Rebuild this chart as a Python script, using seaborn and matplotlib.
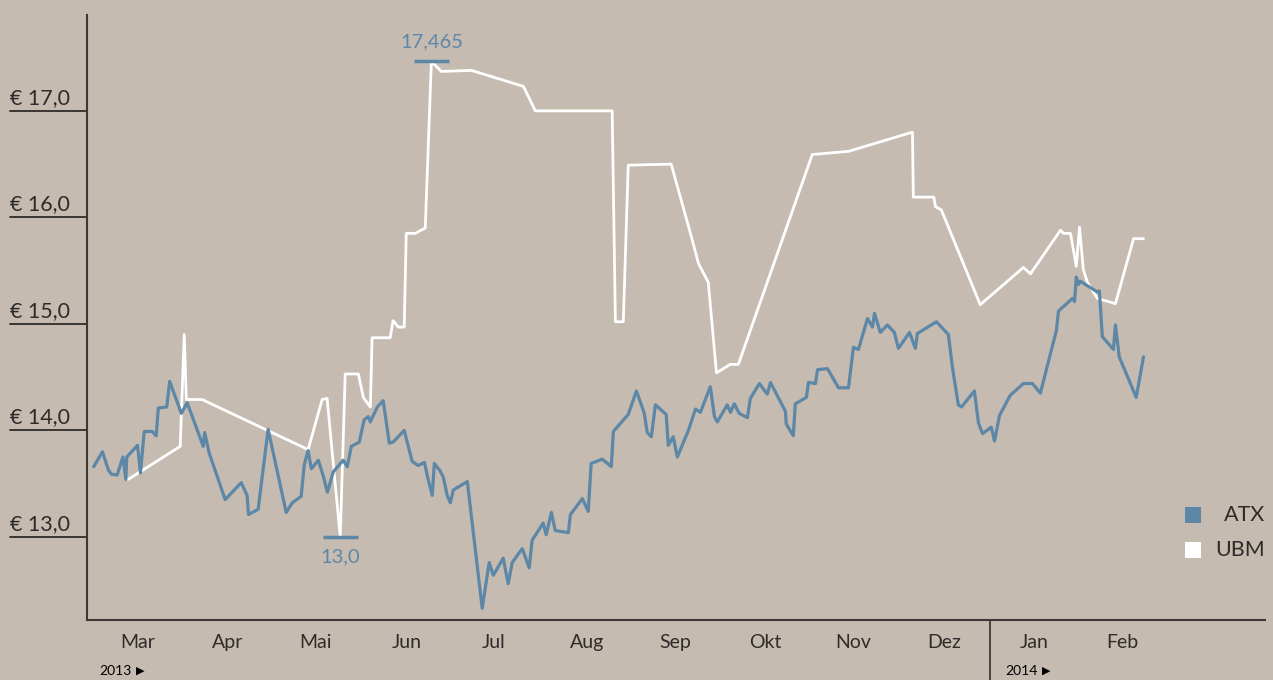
import pandas as pd
import numpy as np
import matplotlib
matplotlib.use('agg')
import matplotlib.pyplot as plt
import matplotlib.transforms as mtransforms
from matplotlib.patches import Rectangle
import seaborn as sns

BG = "#c5bbb1"
BLUE = "#5d87a7"
DARK = "#2f2b28"
AXIS = "#3d3835"

START = pd.Timestamp("2013-03-01")

# ATX, days since 1 Mar 2013 and value
atx_days = [-1, 2, 4, 5, 7, 9, 10, 10.3, 14, 15, 16.3, 19, 20.4, 21.1, 24, 25, 29, 31, 36.5, 37, 38.5,
            44, 49.5, 51.5, 52, 55.3, 58.7, 64.9, 67, 70, 71.1, 72.4, 73.5, 75.9, 77.6, 79, 81, 84.4,
            85.8, 87.2, 89.9, 91.6, 93, 93.7, 96.1, 98.1, 100.2, 101.5, 105.3, 108, 110.1, 112.2, 113.5,
            114.9, 115.6, 117.6, 118.7, 120, 121.1, 122.1, 126.9, 132, 134.4, 135.8, 139.2, 140.9, 142.3,
            145.7, 148.1, 149.1, 152.9, 153.9, 155.7, 157, 161.5, 162.2, 166.3, 168.3, 169.3, 173.1,
            176.2, 176.9, 182, 184.8, 187.5, 188.5, 189.9, 191.3, 195, 195.7, 197.4, 198.8, 202.6, 205,
            206.7, 210.1, 211.5, 212.5, 215.9, 217, 218.3, 220, 222.8, 223.8, 226.9, 229.6, 230.7, 235.8,
            236.1, 238.5, 239.2, 243, 243.7, 246.1, 246.8, 250.2, 254, 257.4, 259.1, 260.8, 263.9, 265.6,
            266.3, 268.3, 270.7, 273.1, 274.5, 278.3, 280.3, 281, 287.5, 291.6, 293, 295, 296.1, 300.5,
            301.9, 303.3, 306.3, 307.4, 309.1, 312.8, 317.3, 320.4, 323.1, 328.6, 329.3, 334.1, 334.8,
            335.4, 336.1, 336.8, 342.6, 343.3, 344.3, 348.1, 348.8, 350.1, 355.9, 358.4]
atx_vals = [13.66, 13.80, 13.63, 13.59, 13.58, 13.75, 13.54, 13.75, 13.86, 13.60, 13.99, 13.99, 13.95, 14.21,
            14.22, 14.46, 14.16, 14.26, 13.85, 13.98, 13.79, 13.35, 13.51, 13.39, 13.21, 13.26, 14.01,
            13.23, 13.32, 13.38, 13.68, 13.81, 13.64, 13.72, 13.57, 13.42, 13.61, 13.72, 13.66, 13.85,
            13.89, 14.10, 14.13, 14.08, 14.22, 14.28, 13.88, 13.89, 14.00, 13.71, 13.67, 13.70, 13.54,
            13.39, 13.69, 13.62, 13.56, 13.39, 13.32, 13.44, 13.52, 12.33, 12.76, 12.64, 12.80, 12.56,
            12.76, 12.89, 12.71, 12.97, 13.13, 13.02, 13.23, 13.06, 13.04, 13.21, 13.36, 13.24, 13.69,
            13.73, 13.66, 13.99, 14.15, 14.37, 14.16, 13.98, 13.94, 14.24, 14.15, 13.86, 13.94, 13.75,
            14.00, 14.20, 14.17, 14.41, 14.13, 14.08, 14.24, 14.17, 14.25, 14.16, 14.12, 14.30, 14.44,
            14.34, 14.45, 14.18, 14.06, 13.95, 14.25, 14.31, 14.45, 14.44, 14.57, 14.58, 14.40, 14.40,
            14.78, 14.76, 15.05, 14.97, 15.10, 14.92, 14.99, 14.92, 14.77, 14.92, 14.77, 14.91, 15.02,
            14.90, 14.59, 14.24, 14.22, 14.37, 14.07, 13.97, 14.03, 13.90, 14.14, 14.33, 14.44, 14.44,
            14.35, 14.94, 15.12, 15.24, 15.21, 15.44, 15.37, 15.40, 15.30, 15.31, 14.88, 14.76, 14.99,
            14.69, 14.31, 14.69]

# UBM
ubm_days = [10.8, 28.6, 30, 30.7, 36.1, 72.4, 77.2, 78.9, 83.4, 85.1, 89.6, 91.3, 93.7, 94.3, 100.5,
            101.5, 103.3, 105.3, 106, 109.1, 111.1, 112.5, 114.6, 118, 128.3, 146.1, 150.2, 176.5, 177.6,
            180.3, 182, 196.7, 203.9, 206, 209.4, 212.2, 216.9, 219.7, 245, 257.4, 279.3, 279.6, 286.6,
            287.2, 289.2, 302.5, 317.3, 319.7, 330, 331, 333.4, 335.4, 336.5, 337.8, 339.2, 342.6, 348.8,
            355, 358.4]
ubm_vals = [13.54, 13.85, 14.90, 14.29, 14.29, 13.82, 14.29, 14.30, 13.0, 14.53, 14.53, 14.31, 14.22,
            14.87, 14.87, 15.03, 14.97, 14.97, 15.85, 15.85, 15.88, 15.90, 17.465, 17.37, 17.38, 17.23,
            17.00, 17.00, 15.02, 15.02, 16.49, 16.50, 15.79, 15.57, 15.39, 14.54, 14.62, 14.62, 16.59,
            16.62, 16.80, 16.19, 16.19, 16.10, 16.07, 15.18, 15.53, 15.47, 15.88, 15.85, 15.85, 15.54,
            15.91, 15.51, 15.39, 15.24, 15.19, 15.80, 15.80]

y_ticks = [13.0, 14.0, 15.0, 16.0, 17.0]
y_tick_labels = ["€ 13,0", "€ 14,0", "€ 15,0", "€ 16,0", "€ 17,0"]
month_ticks = ["2013-03-15", "2013-04-15", "2013-05-15", "2013-06-15", "2013-07-15", "2013-08-16",
               "2013-09-15", "2013-10-16", "2013-11-15", "2013-12-16", "2014-01-16", "2014-02-15"]
month_labels = ["Mar", "Apr", "Mai", "Jun", "Jul", "Aug", "Sep", "Okt", "Nov", "Dez", "Jan", "Feb"]
year_labels = ["2013", "2014"]
year_starts = ["2013-03-02", "2014-01-06"]
series_names = ["ATX", "UBM"]

atx = pd.DataFrame({"date": START + pd.to_timedelta(atx_days, unit="D"), "value": atx_vals})
ubm = pd.DataFrame({"date": START + pd.to_timedelta(ubm_days, unit="D"), "value": ubm_vals})

sns.set_style("white", {"axes.facecolor": BG, "figure.facecolor": BG})
plt.rcParams["font.family"] = ["Lato", "DejaVu Sans"]

fig = plt.figure(figsize=(12.73, 6.8), dpi=100)
ax = fig.add_axes([87 / 1273, 60 / 680, 1178 / 1273, 605 / 680])

sns.lineplot(data=ubm, x="date", y="value", ax=ax, color="white", lw=2.0, estimator=None, sort=False)
sns.lineplot(data=atx, x="date", y="value", ax=ax, color=BLUE, lw=2.3, estimator=None, sort=False)

ax.set_xlim(START - pd.Timedelta(days=3.3), START + pd.Timedelta(days=400))
ax.set_ylim(12.22, 17.9)
ax.set_xlabel("")
ax.set_ylabel("")

for s in ["top", "right"]:
    ax.spines[s].set_visible(False)
ax.spines["left"].set_color(AXIS)
ax.spines["bottom"].set_color(AXIS)
ax.spines["left"].set_linewidth(1.5)
ax.spines["bottom"].set_linewidth(1.5)

ax.set_xticks(pd.to_datetime(month_ticks))
ax.set_xticklabels(month_labels, fontsize=14, color=DARK)
ax.tick_params(axis="x", length=0, pad=10)
ax.set_yticks([])

# y labels with underline
trans = mtransforms.blended_transform_factory(ax.transAxes, ax.transData)
x0 = (10 - 87) / 1178
for v, lab in zip(y_ticks, y_tick_labels):
    ax.plot([x0, 0], [v, v], transform=trans, color=DARK, lw=1.3, clip_on=False)
    ax.annotate(lab, xy=(x0, v), xycoords=trans, xytext=(0, 5), textcoords="offset points",
                ha="left", va="baseline", fontsize=15.5, color=DARK)

# year separator and year labels
sep = pd.Timestamp("2014-01-01")
tx = mtransforms.blended_transform_factory(ax.transData, ax.transAxes)
ax.plot([sep, sep], [0, -60 / 605], transform=tx, color=AXIS, lw=1.3, clip_on=False)
for yl, ys in zip(year_labels, year_starts):
    t = ax.text(pd.Timestamp(ys), -45 / 605, yl, transform=tx, fontsize=10,
                color="black", ha="left", va="top")
    ax.annotate("▶", xy=(1, 0.5), xycoords=t, xytext=(3, 0), textcoords="offset points",
                ha="left", va="center", fontsize=8, color="black", family="DejaVu Sans")

# high / low annotations of UBM
hi = int(np.argmax(ubm_vals))
lo = int(np.argmin(ubm_vals))
for idx, off in [(hi, 8), (lo, -8)]:
    d = START + pd.to_timedelta(ubm_days[idx], unit="D")
    ax.hlines(ubm_vals[idx], d - pd.Timedelta(days=6), d + pd.Timedelta(days=6), color=BLUE, lw=2.5)
    txt = f"{ubm_vals[idx]:g}".replace(".", ",")
    if "," not in txt:
        txt += ",0"
    ax.annotate(txt, xy=(d, ubm_vals[idx]), xytext=(0, off), textcoords="offset points",
                ha="center", va="bottom" if off > 0 else "top", fontsize=14.5, color=BLUE)

# legend
for i, (name, col) in enumerate(zip(series_names, [BLUE, "white"])):
    ytop = 507 + i * 35
    fig.patches.append(Rectangle((1185 / 1273, (680 - ytop - 16) / 680), 16 / 1273, 16 / 680,
                                 transform=fig.transFigure, facecolor=col, edgecolor="none"))
    fig.text(1265 / 1273, (680 - ytop - 8) / 680, name, ha="right", va="center",
             fontsize=15.5, color=DARK)

fig.savefig("out.png", dpi=100, facecolor=BG)
plt.close(fig)
